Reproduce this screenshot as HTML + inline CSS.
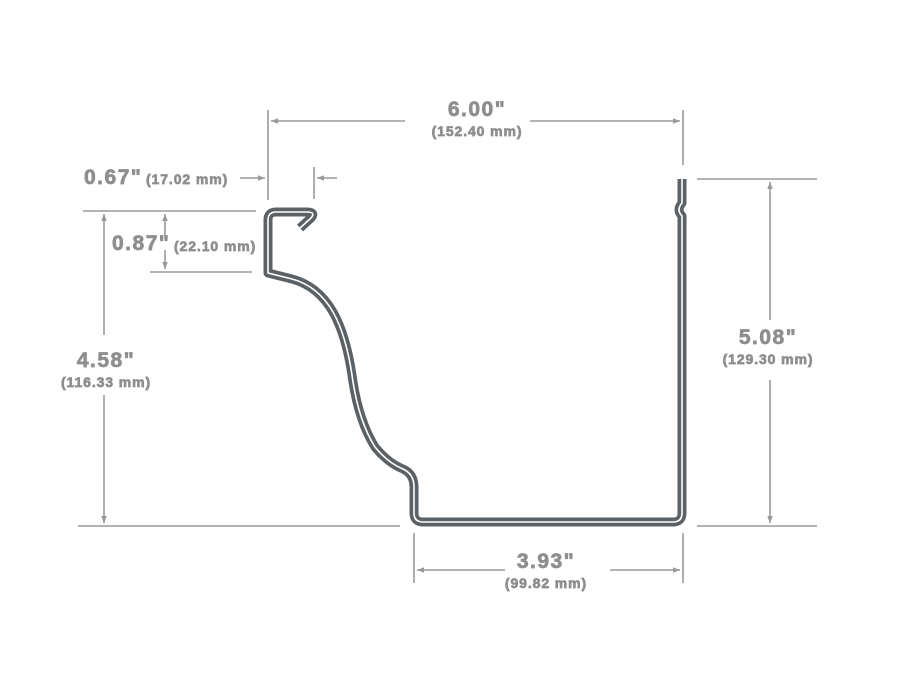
<!DOCTYPE html>
<html><head><style>
html,body{margin:0;padding:0;background:#fff;}
svg{display:block;}
text{font-family:"Liberation Sans",sans-serif;font-weight:bold;fill:#8c8e90;stroke:#8c8e90;stroke-width:0.7;}
.b{font-size:21px;letter-spacing:1.5px;}
.s{font-size:14px;letter-spacing:0.9px;}
</style></head><body>
<svg width="900" height="691" viewBox="0 0 900 691" xmlns="http://www.w3.org/2000/svg">
<defs>
<marker id="a" viewBox="0 0 10 10" refX="10" refY="5" markerWidth="7" markerHeight="7" orient="auto-start-reverse" markerUnits="userSpaceOnUse"><path d="M0,1 L10,5 L0,9 Z" fill="#999"/></marker>
</defs>
<g stroke="#9a9a9a" stroke-width="1.6" fill="none">
<line x1="268" y1="110" x2="268" y2="200"/>
<line x1="683" y1="110" x2="683" y2="165"/>
<line x1="405" y1="121" x2="271" y2="121" marker-end="url(#a)"/>
<line x1="530" y1="121" x2="680" y2="121" marker-end="url(#a)"/>
<line x1="240" y1="178" x2="265" y2="178" marker-end="url(#a)"/>
<line x1="314" y1="167" x2="314" y2="199"/>
<line x1="337" y1="178" x2="317" y2="178" marker-end="url(#a)"/>
<line x1="83" y1="211" x2="256" y2="211"/>
<line x1="150" y1="272" x2="252" y2="272"/>
<line x1="78" y1="526" x2="400" y2="526"/>
<line x1="104" y1="335" x2="104" y2="214" marker-end="url(#a)"/>
<line x1="104" y1="395" x2="104" y2="523" marker-end="url(#a)"/>
<line x1="165" y1="238" x2="165" y2="214" marker-end="url(#a)"/>
<line x1="165" y1="250" x2="165" y2="269" marker-end="url(#a)"/>
<line x1="697" y1="179" x2="817" y2="179"/>
<line x1="697" y1="526" x2="817" y2="526"/>
<line x1="770" y1="320" x2="770" y2="182" marker-end="url(#a)"/>
<line x1="770" y1="380" x2="770" y2="523" marker-end="url(#a)"/>
<line x1="414" y1="533" x2="414" y2="583"/>
<line x1="683" y1="533" x2="683" y2="583"/>
<line x1="505" y1="570" x2="417" y2="570" marker-end="url(#a)"/>
<line x1="610" y1="570" x2="680" y2="570" marker-end="url(#a)"/>
</g>
<g fill="none" stroke-linejoin="round" stroke-linecap="butt">
<path d="M300,228 L311,218 Q316,212 307,212 L276,212 Q268,212 268,220 L268,273 L292,279 Q318,286 333,312 Q346,335 352,375 Q358,420 375,447 Q388,463 403,469 Q414,474 414,487 L414,513 Q414,522 423,522 L673,522 Q682,522 682,513 L682,216 Q676,210 682,203 L682,179" stroke="#5b6164" stroke-width="9"/>
<path d="M300,228 L311,218 Q316,212 307,212 L276,212 Q268,212 268,220 L268,273 L292,279 Q318,286 333,312 Q346,335 352,375 Q358,420 375,447 Q388,463 403,469 Q414,474 414,487 L414,513 Q414,522 423,522 L673,522 Q682,522 682,513 L682,216 Q676,210 682,203 L682,179" stroke="#fff" stroke-width="1.6"/>
</g>
<text x="477" y="116" class="b" text-anchor="middle">6.00"</text>
<text x="477" y="136" class="s" text-anchor="middle">(152.40 mm)</text>
<text x="84" y="184" class="b">0.67"</text>
<text x="146" y="184" class="s">(17.02 mm)</text>
<text x="112" y="250" class="b">0.87"</text>
<text x="174" y="251" class="s">(22.10 mm)</text>
<text x="106" y="367" class="b" text-anchor="middle">4.58"</text>
<text x="106" y="387" class="s" text-anchor="middle">(116.33 mm)</text>
<text x="768" y="344" class="b" text-anchor="middle">5.08"</text>
<text x="768" y="364" class="s" text-anchor="middle">(129.30 mm)</text>
<text x="546" y="568" class="b" text-anchor="middle">3.93"</text>
<text x="546" y="588" class="s" text-anchor="middle">(99.82 mm)</text>
</svg>
</body></html>
